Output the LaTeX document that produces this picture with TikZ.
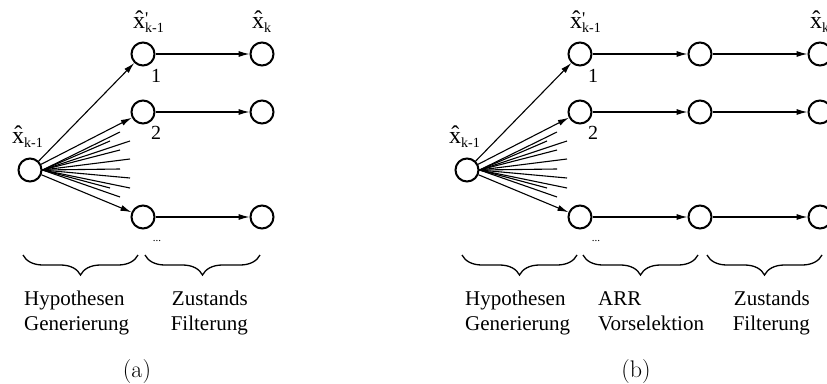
\documentclass[tikz,border=0pt]{standalone}
\usepackage{fontspec}
\newfontfamily\tnr{Liberation Serif}
\newfontfamily\lmr{Latin Modern Roman}
\usetikzlibrary{arrows.meta,decorations.pathreplacing}
\newcommand\hx{{\fontsize{24}{24}\selectfont\^{x}}}
\newcommand\sbs[1]{\raisebox{-4pt}{\fontsize{14}{14}\selectfont #1}}
\newcommand\prm{\rlap{\raisebox{4pt}{\fontsize{18}{18}\selectfont\symbol{"27}}}}
\begin{document}
\begin{tikzpicture}[x=1pt,y=-1pt,
  st/.style={circle,draw,line width=2pt,minimum size=23pt,inner sep=0pt},
  arr/.style={line width=1.1pt,-{Latex[length=11pt,width=6pt]}},
  fan/.style={line width=1.1pt},
  br/.style={line width=1.3pt,decorate,decoration={brace,mirror,amplitude=20pt}},
  lab/.style={font=\tnr\fontsize{21}{25}\selectfont,inner sep=0pt},
  xl/.style={font=\tnr,inner sep=0pt,anchor=base west},
  num/.style={font=\tnr\fontsize{20}{20}\selectfont,inner sep=0pt,anchor=base},
  dots/.style={font=\tnr\fontsize{11}{11}\selectfont,inner sep=0pt},
  captext/.style={font=\lmr\fontsize{24}{24}\selectfont,inner sep=0pt,anchor=base}]
\useasboundingbox (0,0) rectangle (827,383);
% ---------- panel (a)
\node[st] (aL) at (30,170) {};
\node[st] (aM1) at (143,54) {};
\node[st] (aM2) at (143,112) {};
\node[st] (aM3) at (143,217) {};
\node[st] (aR1) at (262,54) {};
\node[st] (aR2) at (262,112) {};
\node[st] (aR3) at (262,217) {};
\draw[arr] (aL) -- (aM1);
\draw[arr] (aL) -- (aM2);
\draw[arr] (aL) -- (aM3);
\draw[arr] (aM1) -- (aR1);
\draw[arr] (aM2) -- (aR2);
\draw[arr] (aM3) -- (aR3);
\foreach \x/\y [count=\i] in {120/132,130/141,110/141,120/150,130/159,120/169,130/178,130/188,110/188,120/197}{
  \coordinate (af\i) at (\x,\y);
  \draw[fan] (aL.east) -- (af\i);
}
\node[xl] (alL) at (12,143) {\hx\sbs{k-1}};
\node[xl] (alM) at (133,28) {\hx\prm\sbs{k-1}};
\node[xl] (alR) at (252,28) {\hx\sbs{k}};
\node[num] (an1) at (156,82) {1};
\node[num] (an2) at (156,139) {2};
\node[dots] (and) at (157,241) {...};
\draw[br] (23,255) -- (138,255);
\draw[br] (145,255) -- (260,255);
\node[lab,anchor=base west,align=left] (ah) at (24,330) {Hypothesen\\Generierung};
\node[lab,anchor=base east,align=right] (az) at (248,330) {Zustands\\Filterung};
\node[captext] (acap) at (137,377) {(a)};
% ---------- panel (b)
\node[st] (bL) at (467,170) {};
\node[st] (bM1) at (580,54) {};
\node[st] (bM2) at (580,112) {};
\node[st] (bM3) at (580,217) {};
\node[st] (bN1) at (700,54) {};
\node[st] (bN2) at (700,112) {};
\node[st] (bN3) at (700,217) {};
\node[st] (bR1) at (820,54) {};
\node[st] (bR2) at (820,112) {};
\node[st] (bR3) at (820,217) {};
\draw[arr] (bL) -- (bM1);
\draw[arr] (bL) -- (bM2);
\draw[arr] (bL) -- (bM3);
\draw[arr] (bM1) -- (bN1);
\draw[arr] (bM2) -- (bN2);
\draw[arr] (bM3) -- (bN3);
\draw[arr] (bN1) -- (bR1);
\draw[arr] (bN2) -- (bR2);
\draw[arr] (bN3) -- (bR3);
\foreach \x/\y [count=\i] in {120/132,130/141,110/141,120/150,130/159,120/169,130/178,130/188,110/188,120/197}{
  \coordinate (bf\i) at (\x+437,\y);
  \draw[fan] (bL.east) -- (bf\i);
}
\node[xl] (blL) at (449,143) {\hx\sbs{k-1}};
\node[xl] (blM) at (570,28) {\hx\prm\sbs{k-1}};
\node[xl] (blR) at (810,28) {\hx\sbs{k}};
\node[num] (bn1) at (593,82) {1};
\node[num] (bn2) at (593,139) {2};
\node[dots] (bnd) at (596,241) {...};
\draw[br] (462,255) -- (577,255);
\draw[br] (583,255) -- (698,255);
\draw[br] (707,255) -- (822,255);
\node[lab,anchor=base west,align=left] (bh) at (465,330) {Hypothesen\\Generierung};
\node[lab,anchor=base west,align=left] (ba) at (598,330) {ARR\\Vorselektion};
\node[lab,anchor=base east,align=right] (bz) at (810,330) {Zustands\\Filterung};
\node[captext] (bcap) at (636,377) {(b)};
\end{tikzpicture}
\end{document}
